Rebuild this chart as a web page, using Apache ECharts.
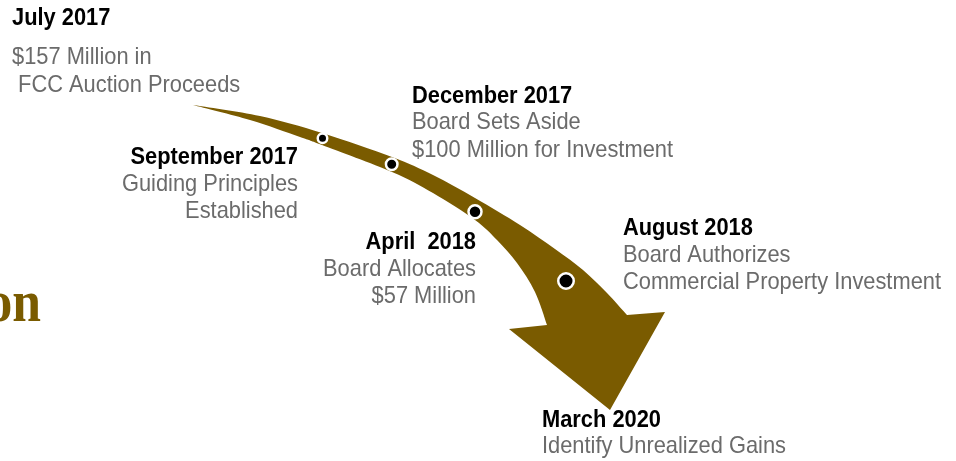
<!DOCTYPE html>
<html>
<head>
<meta charset="utf-8">
<script src="https://cdn.jsdelivr.net/npm/echarts@6/dist/echarts.min.js"></script>
<style>
html,body{margin:0;padding:0;background:#fff;}
#chart{width:956px;height:461px;}
</style>
</head>
<body>
<div id="chart"></div>
<script>
// ---- data ----
const eventTitles = ['July 2017', 'September 2017', 'December 2017', 'April  2018', 'August 2018', 'March 2020'];
const eventDetails = [
  ['$157 Million in', ' FCC Auction Proceeds'],
  ['Guiding Principles', 'Established'],
  ['Board Sets Aside', '$100 Million for Investment'],
  ['Board Allocates', '$57 Million'],
  ['Board Authorizes', 'Commercial Property Investment'],
  ['Identify Unrealized Gains']
];
// milestone dots on the arrow (Sept 2017, Dec 2017, Apr 2018, Aug 2018)
const milestoneX = [322.5, 391.7, 475, 566];
const milestoneY = [138.3, 164.3, 211.7, 281];
// arrow outline: upper edge (tail -> right notch), lower edge (tail -> left notch), head (right barb, tip, left barb)
const arrowUpper = [[193,105],[260,116],[322,133],[392,157],[433,175],[475,198],[520,225],[555,249],[583,270],[607,293],[627,315]];
const arrowLower = [[193,105],[250,120],[300,137],[322,145],[392,172],[433,193],[475,220],[497,240],[517,263],[535,292],[547,325]];
const arrowHead = [[665,312],[610,410],[509,329]];
const titleFragment = 'on';

// ---- layout / style (kept separate from data) ----
const dotSizes = [9.5, 11.5, 13, 15.5];
const textLayout = [
  {x: 12,  align: 'left',  y: [18, 57, 85]},
  {x: 298, align: 'right', y: [157, 184, 211]},
  {x: 412, align: 'left',  y: [96, 122, 150]},
  {x: 476, align: 'right', y: [242, 269, 296]},
  {x: 623, align: 'left',  y: [228, 255, 282]},
  {x: 542, align: 'left',  y: [420, 446]}
];
const FONT_FAMILY = '"Liberation Sans", Arial, sans-serif';
const FONT_SIZE = 24;
const TEXT_SCALE_X = 0.91;
const BROWN = '#7a5b00';
const GRAY = '#6b6b6b';

// flatten text lines
const lineText = [], lineData = [], lineAlign = [], lineIsTitle = [];
eventTitles.forEach(function (t, i) {
  const lay = textLayout[i];
  [t].concat(eventDetails[i]).forEach(function (txt, j) {
    lineText.push(txt);
    lineData.push([lay.x, lay.y[j]]);
    lineAlign.push(lay.align);
    lineIsTitle.push(j === 0);
  });
});

const dotData = milestoneX.map(function (x, i) {
  return {value: [x, milestoneY[i]], symbolSize: dotSizes[i]};
});

function splinePath(pts) {
  let d = '';
  for (let i = 0; i < pts.length - 1; i++) {
    const p0 = pts[Math.max(0, i - 1)], p1 = pts[i], p2 = pts[i + 1], p3 = pts[Math.min(pts.length - 1, i + 2)];
    const c1 = [p1[0] + (p2[0] - p0[0]) / 6, p1[1] + (p2[1] - p0[1]) / 6];
    const c2 = [p2[0] - (p3[0] - p1[0]) / 6, p2[1] - (p3[1] - p1[1]) / 6];
    d += ' C' + c1[0] + ',' + c1[1] + ' ' + c2[0] + ',' + c2[1] + ' ' + p2[0] + ',' + p2[1];
  }
  return d;
}

const chart = echarts.init(document.getElementById('chart'), null, {renderer: 'canvas'});
chart.setOption({
  animation: false,
  backgroundColor: '#fff',
  grid: {left: 0, right: 0, top: 0, bottom: 0},
  xAxis: {type: 'value', min: 0, max: 956, show: false},
  yAxis: {type: 'value', min: 0, max: 461, inverse: true, show: false},
  graphic: [{
    type: 'text',
    x: 41,
    y: 305,
    scaleX: 0.86,
    silent: true,
    style: {
      text: titleFragment,
      font: 'bold 60px "Liberation Serif", "Times New Roman", serif',
      fill: BROWN,
      align: 'right',
      verticalAlign: 'middle'
    }
  }],
  series: [
    {
      type: 'custom',
      silent: true,
      data: [[0, 0]],
      renderItem: function (params, api) {
        const up = arrowUpper.map(function (p) { return api.coord(p); });
        const lo = arrowLower.map(function (p) { return api.coord(p); }).reverse();
        const hd = arrowHead.map(function (p) { return api.coord(p); });
        let d = 'M' + up[0][0] + ',' + up[0][1] + splinePath(up);
        hd.forEach(function (p) { d += ' L' + p[0] + ',' + p[1]; });
        d += ' L' + lo[0][0] + ',' + lo[0][1] + splinePath(lo) + ' Z';
        return {type: 'path', shape: {pathData: d}, style: {fill: BROWN, stroke: null}};
      },
      z: 1
    },
    {
      type: 'scatter',
      silent: true,
      data: dotData,
      itemStyle: {color: '#000', borderColor: '#fff', borderWidth: 2.5, opacity: 1},
      z: 3
    },
    {
      type: 'custom',
      silent: true,
      data: lineData,
      renderItem: function (params, api) {
        const i = params.dataIndex;
        const p = api.coord([api.value(0), api.value(1)]);
        const title = lineIsTitle[i];
        return {
          type: 'text',
          x: p[0],
          y: p[1],
          scaleX: TEXT_SCALE_X,
          style: {
            x: 0, y: 0,
            text: lineText[i],
            font: (title ? 'bold ' : '') + FONT_SIZE + 'px ' + FONT_FAMILY,
            fill: title ? '#000' : GRAY,
            align: lineAlign[i],
            verticalAlign: 'middle'
          }
        };
      },
      z: 4
    }
  ]
});
</script>
</body>
</html>
